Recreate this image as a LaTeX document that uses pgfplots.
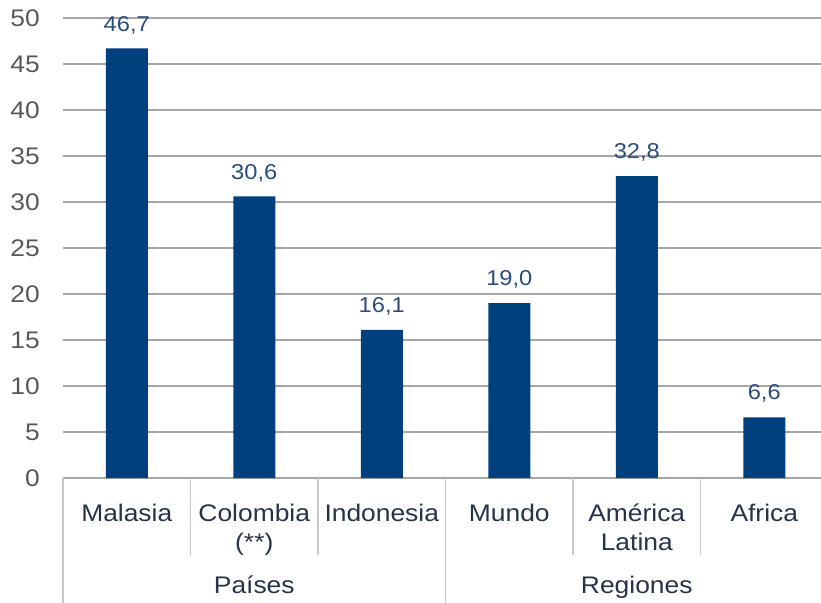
\documentclass[border=0pt]{standalone}
\usepackage{fontspec}
\setmainfont{Liberation Sans}[FakeStretch=1.1]
\usepackage{pgfplots}
\pgfplotsset{compat=1.18}
\definecolor{barblue}{HTML}{00407F}
\definecolor{valblue}{HTML}{2B4C7E}
\definecolor{ticktext}{HTML}{595959}
\definecolor{cattext}{HTML}{26334A}
\definecolor{gridgray}{HTML}{A6A6A6}
\definecolor{sepgray}{HTML}{C8C8C8}
\newcommand\cs{\rule{0pt}{22pt}}
\begin{document}
\begin{tikzpicture}
\begin{axis}[
  at={(0pt,0pt)}, anchor=south west,
  scale only axis, width=758pt, height=460pt,
  xmin=-0.5, xmax=5.445, ymin=0, ymax=50,
  ytick={0,5,...,50},
  xtick={0,1,2,3,4,5},
  xticklabels={{\cs Malasia},{\cs Colombia\\(**)},{\cs Indonesia},{\cs Mundo},{\cs América\\Latina},{\cs Africa}},
  xticklabel style={font=\fontsize{24}{29}\selectfont, text=cattext, align=center, anchor=north, inner sep=0pt, yshift=-17pt},
  yticklabel style={font=\fontsize{24}{27}\selectfont, text=ticktext, anchor=east, inner sep=0pt, xshift=-23pt},
  /pgf/number format/assume math mode=true,
  ymajorgrids, grid style={draw=gridgray, line width=1.3pt},
  axis x line*=bottom, axis y line*=left,
  y axis line style={draw=none},
  x axis line style={draw=gridgray, line width=1.3pt, -},
  tick style={draw=none},
  clip=false,
  ybar, bar width=42pt,
  nodes near coords={\pgfmathprintnumber[fixed,fixed zerofill,precision=1,use comma,assume math mode=true]{\pgfplotspointmeta}},
  nodes near coords style={font=\fontsize{21.5}{25}\selectfont, text=valblue, anchor=south, yshift=11pt},
]
\addplot[fill=barblue, draw=none] coordinates {(0,46.7) (1,30.6) (2,16.1) (3,19.0) (4,32.8) (5,6.6)};
\draw[sepgray, line width=1.5pt] (axis cs:0.5,0) -- ([yshift=-77pt]axis cs:0.5,0);
\draw[sepgray, line width=1.5pt] (axis cs:1.5,0) -- ([yshift=-77pt]axis cs:1.5,0);
\draw[sepgray, line width=1.5pt] (axis cs:3.5,0) -- ([yshift=-77pt]axis cs:3.5,0);
\draw[sepgray, line width=1.5pt] (axis cs:4.5,0) -- ([yshift=-77pt]axis cs:4.5,0);
\draw[sepgray, line width=1.5pt] (axis cs:-0.5,0) -- ([yshift=-130pt]axis cs:-0.5,0);
\draw[sepgray, line width=1.5pt] (axis cs:2.5,0) -- ([yshift=-130pt]axis cs:2.5,0);
\node[anchor=base, font=\fontsize{24}{27}\selectfont, text=cattext] at ([yshift=-115pt]axis cs:1,0) {Países};
\node[anchor=base, font=\fontsize{24}{27}\selectfont, text=cattext] at ([yshift=-115pt]axis cs:4,0) {Regiones};
\end{axis}
\pgfresetboundingbox
\path[use as bounding box] (-63pt,-124pt) rectangle (758pt,478pt);
\end{tikzpicture}
\end{document}
